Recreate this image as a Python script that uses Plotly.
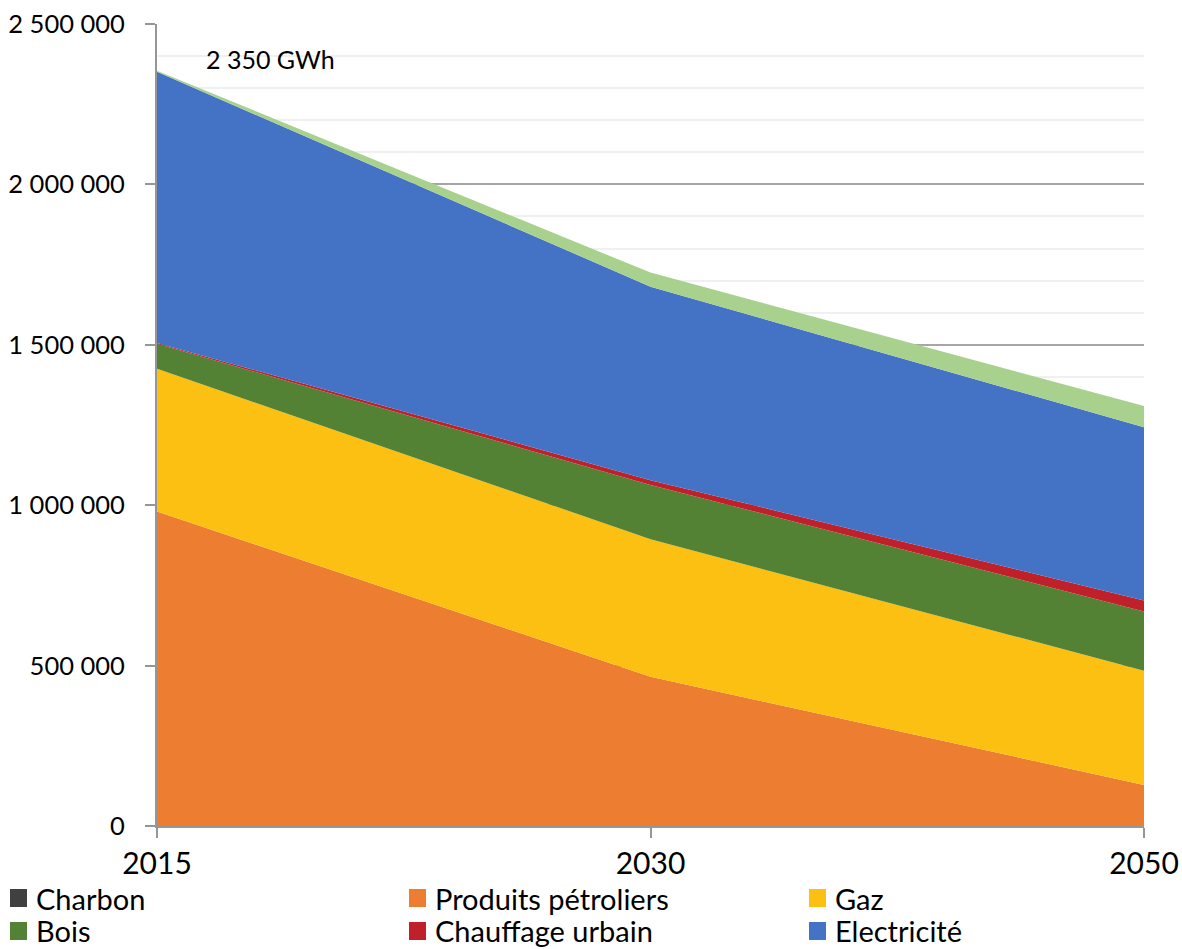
import plotly.graph_objects as go

years = ["2015", "2030", "2050"]
series_names = ["Charbon", "Produits pétroliers", "Gaz", "Bois",
                "Chauffage urbain", "Electricité", "Autres énergies renouvelables"]
charbon = [0, 0, 0]
petrole = [980000, 465000, 128000]
gaz = [445000, 429000, 356000]
bois = [78000, 169000, 185000]
chauffage = [3000, 15000, 34000]
electricite = [845000, 603000, 540000]
autres = [3000, 44000, 66000]
values = [charbon, petrole, gaz, bois, chauffage, electricite, autres]
colors = ["#404040", "#ED7D31", "#FBC012", "#548235", "#C0202A", "#4472C4", "#A9D18E"]
legend_names = series_names[:6]
annotation_text = "2 350 GWh"
y_ticks = [0, 500000, 1000000, 1500000, 2000000, 2500000]
y_labels = ["0", "500 000", "1 000 000", "1 500 000", "2 000 000", "2 500 000"]

FONT = "Lato"
W, H = 1182, 949
L, R, T, B = 157, 38, 24, 123
pw, ph = W - L - R, H - T - B


def px(x):
    return (x - L) / pw


def py(y):
    return (H - B - y) / ph


fig = go.Figure()
for name, vals, col in zip(series_names, values, colors):
    fig.add_trace(go.Scatter(
        x=years, y=vals, name=name, mode="lines", stackgroup="one",
        line=dict(width=0, color=col), fillcolor=col, showlegend=False,
        hoverinfo="name+y"))

fig.update_layout(
    width=W, height=H,
    margin=dict(l=L, r=R, t=T, b=B, pad=0),
    paper_bgcolor="white", plot_bgcolor="white",
    font=dict(family=FONT, size=26, color="#000000"),
    showlegend=False,
    xaxis=dict(type="category", range=[0, 2], showgrid=False, automargin=False,
               showline=True, linecolor="#969696", linewidth=2,
               ticks="outside", ticklen=10, tickwidth=2, tickcolor="#969696",
               tickfont=dict(family=FONT, size=30), zeroline=False),
    yaxis=dict(range=[0, 2500000], tickvals=y_ticks, ticktext=y_labels,
               automargin=False,
               showgrid=True, gridcolor="#A6A6A6", gridwidth=2,
               minor=dict(dtick=100000, showgrid=True, gridcolor="#F0F0F0", gridwidth=2),
               showline=True, linecolor="#969696", linewidth=2,
               ticks="outside", ticklen=10, tickwidth=2, tickcolor="#969696",
               tickfont=dict(family=FONT, size=25.5), zeroline=False,
               ticklabelstandoff=15),
)

fig.add_annotation(x=px(204), y=py(59), xref="paper", yref="paper",
                   text=annotation_text, showarrow=False, xanchor="left",
                   yanchor="middle", font=dict(family=FONT, size=25))

cols_x = [10, 409, 809]
rows_y = [898, 931]
for i, (name, col) in enumerate(zip(legend_names, colors[:6])):
    cx = cols_x[i % 3]
    cy = rows_y[i // 3]
    fig.add_shape(type="rect", xref="paper", yref="paper",
                  x0=px(cx), x1=px(cx + 17), y0=py(cy - 9), y1=py(cy + 9),
                  fillcolor=col, line=dict(width=0))
    fig.add_annotation(x=px(cx + 24), y=py(cy), xref="paper", yref="paper",
                       text=name, showarrow=False, xanchor="left", yanchor="middle",
                       font=dict(family=FONT, size=29))

fig.write_html("out.html")
